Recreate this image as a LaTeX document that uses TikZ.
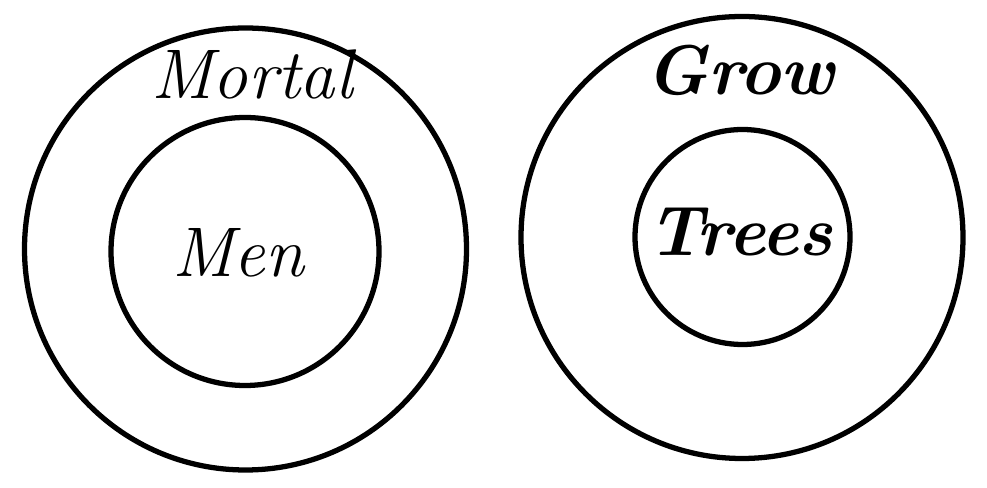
\documentclass[tikz,border=0pt]{standalone}
\usepackage{tikz}

\begin{document}
\begin{tikzpicture}[line cap=round, line join=round,
		ring/.style={line width=1.5pt},
		word/.style={inner sep=0pt, font=\fontsize{20}{24}\selectfont\itshape},
		boldword/.style={inner sep=0pt, font=\fontsize{20}{24}\selectfont\bfseries\itshape}]
			
			\useasboundingbox (0,0) rectangle (9.87,4.88);
			
			%====================
			% 1) 左边：Mortal 包含 Men
			%====================
			\coordinate (Lc)  at (2.455,2.39);
			\coordinate (Lci) at (2.45,2.365);
			
			\draw[ring] (Lc)  circle (2.21);
			\draw[ring] (Lci) circle (1.34);
			
			\node[word] (mortal) at (2.52,4.14) {Mortal};
			\node[word] (men)    at (2.38,2.35) {Men};
			
			%====================
			% 2) 右边：Grow 包含 Trees
			%====================
			\coordinate (Rc)  at (7.42,2.505);
			\coordinate (Rci) at (7.425,2.51);
			
			\draw[ring] (Rc)  circle (2.21);
			\draw[ring] (Rci) circle (1.075);
			
			\node[boldword] (grow)  at (7.40,4.18) {Grow};
			\node[boldword] (trees) at (7.40,2.56) {Trees};
			
		\end{tikzpicture}
\end{document}
